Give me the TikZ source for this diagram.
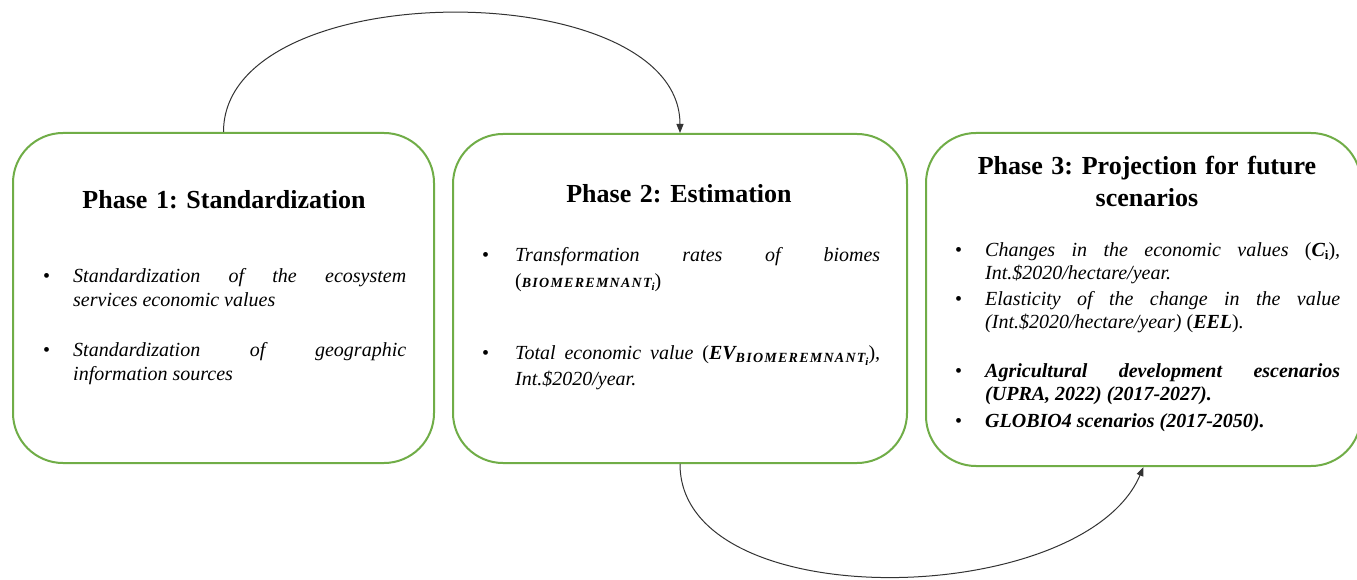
\documentclass[tikz,border=0pt]{standalone}
\usepackage{fontspec}
\setmainfont{Liberation Serif}
\usetikzlibrary{arrows.meta}
\definecolor{phasegreen}{RGB}{112,173,71}
\frenchspacing
% bullet item with hanging indent
\newcommand{\bitem}[2][30pt]{\noindent\hangindent=#1\hangafter=1\makebox[#1][l]{\textup{\mdseries\textbullet}}#2\par}
\newcommand{\biome}{{\fontsize{14}{14}\selectfont\bfseries\itshape\addfontfeature{LetterSpace=9}BIOMEREMNANT\raisebox{-3pt}{\fontsize{11}{11}\selectfont i}}}
\tikzset{
  phasebox/.style={draw=phasegreen, line width=2pt, rounded corners=50pt, inner sep=0pt, fill=white},
  phasetitle/.style={font=\fontsize{26}{32}\selectfont\bfseries, text width=380pt, align=center, anchor=base, inner sep=0pt},
  phaselist/.style={font=\fontsize{20}{24}\selectfont\itshape, align=justify, anchor=base west, inner sep=0pt},
  flowarrow/.style={-{Triangle[length=9pt,width=7pt]}, line width=1pt, black!80}
}
\begin{document}
\begin{tikzpicture}[x=1pt, y=1pt]
  \path[fill=white, use as bounding box] (0,0) rectangle (1357,579);

  \node[phasebox, minimum width=421pt, minimum height=330pt] (std) at (223.5,281) {};
  \node[phasebox, minimum width=454pt, minimum height=329pt] (est) at (680,280.5) {};
  \node[phasebox, minimum width=435pt, minimum height=333pt] (proj) at (1143.5,279.5) {};

  \node[phasetitle] (stdtitle) at (224,370) {Phase 1: Standardization};
  \node[phasetitle] (esttitle) at (679,376) {Phase 2: Estimation};
  \node[phasetitle] (projtitle) at (1147,404) {Phase 3: Projection for future\\scenarios};

  \node[phaselist, text width=363pt] (stdlist) at (43,296) {%
    \bitem{Standardization of the ecosystem\linebreak services economic values}
    \vspace{26pt}
    \bitem{Standardization of geographic\linebreak information sources}};
  \node[phaselist, text width=398pt, font=\fontsize{20}{26}\selectfont\itshape] (estlist) at (482,317) {%
    \bitem[33pt]{Transformation rates of biomes\linebreak \textup{(}\biome\textup{)}}
    \vspace{46pt}
    \bitem[33pt]{Total economic value \textup{(}\textbf{EV}\raisebox{-3pt}{\biome}\textup{)},\linebreak Int.\$2020/year.}};
  \node[phaselist, text width=385pt, font=\fontsize{20}{23}\selectfont\itshape] (projlist) at (955,322) {%
    \bitem{Changes in the economic values \textup{(}\textbf{C}\raisebox{-3pt}{\fontsize{13}{13}\selectfont\bfseries\upshape i}\textup{)},\linebreak Int.\$2020/hectare/year.}
    \vspace{3pt}
    \bitem{Elasticity of the change in the value\linebreak (Int.\$2020/hectare/year) \textup{(}\textbf{EEL}\textup{)}.}
    \vspace{26pt}
    \bitem{\bfseries Agricultural development escenarios\linebreak (UPRA, 2022) (2017-2027).}
    \vspace{4pt}
    \bitem{\bfseries GLOBIO4 scenarios (2017-2050).}};

  \draw[flowarrow] (std.north) to[out=90, in=90, looseness=0.89] (est.north);
  \draw[flowarrow] (est.south) to[out=-90, in=-113, looseness=0.85] (proj.south);
\end{tikzpicture}
\end{document}
